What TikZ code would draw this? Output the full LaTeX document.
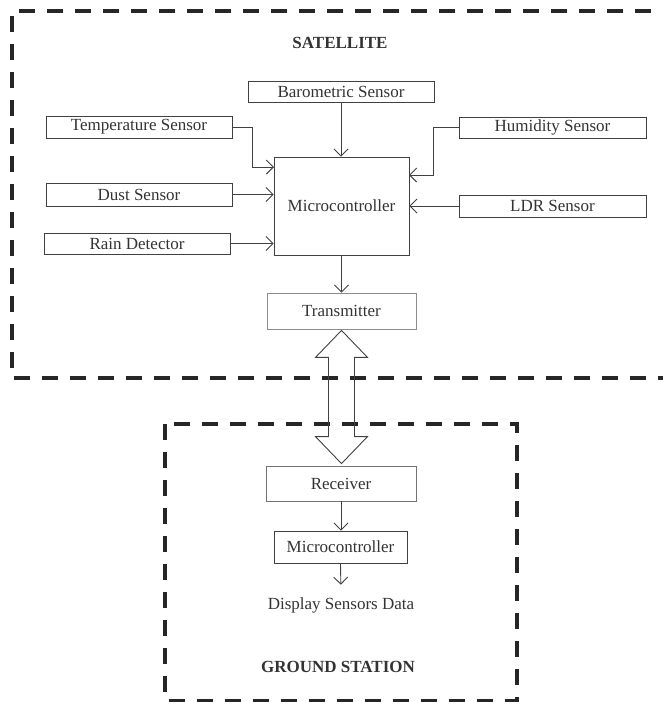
\documentclass[tikz,border=0pt]{standalone}
\usepackage{fontspec}
\setmainfont{Liberation Serif}
\usetikzlibrary{arrows.meta,calc}
\begin{document}
\begin{tikzpicture}[x=1pt,y=-1pt,
  every node/.style={text=black!80,font=\fontsize{17}{20}\selectfont},
  blk/.style={draw=black!75,line width=0.8pt,inner sep=0pt,minimum height=21pt},
  sens/.style={blk,minimum width=186pt},
  arr/.style={draw=black!75,line width=0.9pt,-{Straight Barb[length=7pt,width=14pt,line width=0.9pt]}},
  dashbox/.style={draw=black!85,line width=4pt,dash pattern=on 16pt off 12pt},
  ttl/.style={font=\fontsize{17}{20}\selectfont\bfseries}]
\useasboundingbox (0,0) rectangle (663,702);
% enclosures
\draw[dashbox] (12,60) -- (12,11) -- (672,11);
\draw[dashbox,dash phase=16pt] (12,60) -- (12,378) -- (672,378);
\draw[dashbox] (165,424) rectangle (517,700.5);
% titles
\node[ttl] (sat) at (340,43) {SATELLITE};
\node[ttl] (gs) at (338,667) {GROUND STATION};
% satellite blocks
\node[sens] (baro) at (341,91.5) {Barometric Sensor};
\node[sens,minimum height=22pt] (temp) at (139,127) {Temperature Sensor};
\node[sens,minimum height=23pt] (dust) at (139,194.5) {Dust Sensor};
\node[sens] (rain) at (137,243.5) {Rain Detector};
\node[sens,minimum width=187pt] (hum) at (552.5,127.5) {Humidity Sensor};
\node[sens,minimum width=187pt,minimum height=22pt] (ldr) at (552.5,206) {LDR Sensor};
\node[blk,minimum width=135pt,minimum height=98pt] (micro) at (341.5,206) {Microcontroller};
\node[blk,draw=black!45,minimum width=149pt,minimum height=36pt] (trans) at (341.5,311) {Transmitter};
% ground blocks
\node[blk,draw=black!55,minimum width=150pt,minimum height=35pt] (recv) at (341,483.5) {Receiver};
\node[blk,minimum width=133pt,minimum height=32pt] (micro2) at (340.5,547) {Microcontroller};
\node (disp) at (341,605) {Display Sensors Data};
% connectors
\coordinate (tin) at (274,167);
\coordinate (hin) at (409,175);
\draw[arr] (baro.south) -- (micro.north -| baro.south);
\draw[arr] (temp.east) -- ++(20,0) |- (tin);
\draw[arr] (dust.east) -- (dust.east -| micro.west);
\draw[arr] (rain.east) -- (rain.east -| micro.west);
\draw[arr] (hum.west) -- ++(-25,0) |- (hin);
\draw[arr] (ldr.west) -- (ldr.west -| micro.east);
\draw[arr] (micro.south) -- (trans.north);
\draw[arr] (recv.south) -- (micro2.north -| recv.south);
\draw[arr,shorten >=9pt] (micro2.south) -- (disp.north);
% double arrow link
\coordinate (at) at ($(trans.south)+(0,1)$);
\coordinate (ab) at ($(at |- recv.north)+(0,-2)$);
\draw[black!75,line width=0.9pt,line join=miter]
  (at) -- ++(26,27) -- ++(-13,0) -- ($(ab)+(13,-27)$) -- ++(13,0) -- (ab)
  -- ++(-26,-27) -- ++(13,0) -- ($(at)+(-13,27)$) -- ++(-13,0) -- cycle;
\end{tikzpicture}
\end{document}
